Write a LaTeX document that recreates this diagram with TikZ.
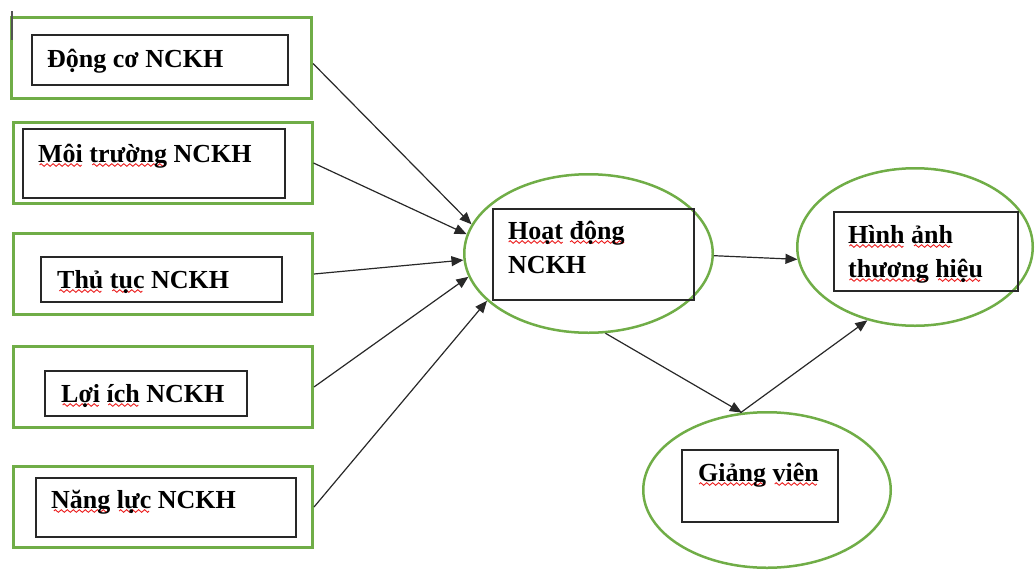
\documentclass[tikz,border=0pt]{standalone}
\usepackage{fontspec}
\setmainfont{Liberation Serif}
\usetikzlibrary{arrows.meta,shapes.geometric}

\definecolor{boxgreen}{RGB}{112,173,71}
\definecolor{spellred}{RGB}{235,30,30}
\definecolor{inkgray}{RGB}{40,40,40}

% one period of the red spell-check wave, 6pt long, below the baseline
\newcommand\wavepiece{\tikz[baseline=0pt]{%
  \useasboundingbox (0pt,0pt) rectangle (6pt,0pt);
  \draw[spellred, line width=0.9pt]
    (0pt,-3pt) sin (1.5pt,-1.7pt) cos (3pt,-3pt) sin (4.5pt,-4.3pt) cos (6pt,-3pt);}}
% red wavy underline under one word
\newsavebox\swordbox
\newcommand\sw[1]{\sbox\swordbox{#1}%
  \rlap{\hbox to \wd\swordbox{\cleaders\hbox{\wavepiece}\hfil}}%
  \usebox\swordbox}

\begin{document}
\begin{tikzpicture}[x=1pt,y=-1pt,
  greenbox/.style={draw=boxgreen, line width=3pt, rectangle, inner sep=0pt,
    minimum width=299pt, minimum height=81pt},
  greenoval/.style={draw=boxgreen, line width=2.5pt, ellipse, inner sep=0pt},
  innerbox/.style={draw=inkgray, line width=1.3pt, rectangle, inner sep=0pt},
  lbl/.style={anchor=base west, inner sep=0pt, align=left,
    font=\fontsize{26pt}{34pt}\selectfont\bfseries},
  link/.style={draw=inkgray, line width=1.2pt, -{Triangle[length=12pt,width=10pt]}}]

\useasboundingbox (0,0) rectangle (1035,570);

% factor boxes on the left
\node[greenbox, minimum width=300pt] (g1) at (161.5,57.5) {};
\node[innerbox, minimum width=256pt, minimum height=50pt] (b1) at (160,60) {};
\node[lbl] (t1) at (47,67) {Động cơ NCKH};

\node[greenbox] (g2) at (162.5,163) {};
\node[innerbox, minimum width=262pt, minimum height=69pt] (b2) at (154,163.5) {};
\node[lbl] (t2) at (38,162) {\sw{Môi} \sw{trường} NCKH};

\node[greenbox] (g3) at (163,274) {};
\node[innerbox, minimum width=241pt, minimum height=45pt] (b3) at (161.5,279.5) {};
\node[lbl] (t3) at (57,288) {\sw{Thủ} \sw{tục} NCKH};

\node[greenbox] (g4) at (163,387) {};
\node[innerbox, minimum width=202pt, minimum height=45pt] (b4) at (146,393.5) {};
\node[lbl] (t4) at (61,402) {\sw{Lợi} \sw{ích} NCKH};

\node[greenbox] (g5) at (163,507) {};
\node[innerbox, minimum width=260pt, minimum height=59pt] (b5) at (166,507.5) {};
\node[lbl] (t5) at (51,508) {\sw{Năng} \sw{lực} NCKH};

% text cursor mark over the top left corner of the first box
\draw[line width=2pt, color=inkgray!80] (12,11) -- (12,40);

% central activity (two-line labels sit on the baseline of their last line)
\node[greenoval, minimum width=248.5pt, minimum height=158.5pt] (hd) at (588.5,253.5) {};
\node[innerbox, minimum width=201pt, minimum height=91pt] (bhd) at (593.5,254.5) {};
\node[lbl] (thd) at (508,273) {\sw{Hoạt} \sw{động}\\NCKH};

% brand image
\node[greenoval, minimum width=235.5pt, minimum height=157.5pt] (hi) at (915,247) {};
\node[innerbox, minimum width=184pt, minimum height=79pt] (bhi) at (926,251.5) {};
\node[lbl] (thi) at (848,277) {\sw{Hình} \sw{ảnh}\\\sw{thương} \sw{hiệu}};

% lecturers
\node[greenoval, minimum width=247.5pt, minimum height=155.5pt] (gv) at (767,490) {};
\node[innerbox, minimum width=156pt, minimum height=72pt] (bgv) at (760,486) {};
\node[lbl] (tgv) at (698,481) {\sw{Giảng} \sw{viên}};

% relations
\draw[link] ([yshift=-6pt]g1.east) -- (hd.166.6);
\draw[link] (g2.east) -- (hd.171.8);
\draw[link] (g3.east) -- (hd.183);
\draw[link] (g4.east) -- (hd.191.7);
\draw[link] (g5.east) -- (hd.205.3);
\draw[link] (hd.359) -- (hi.186.6);
\draw[link] (hd.282.4) -- (gv.108.2);
\draw[link] (gv.109.1) -- (hi.237.1);
\end{tikzpicture}
\end{document}
